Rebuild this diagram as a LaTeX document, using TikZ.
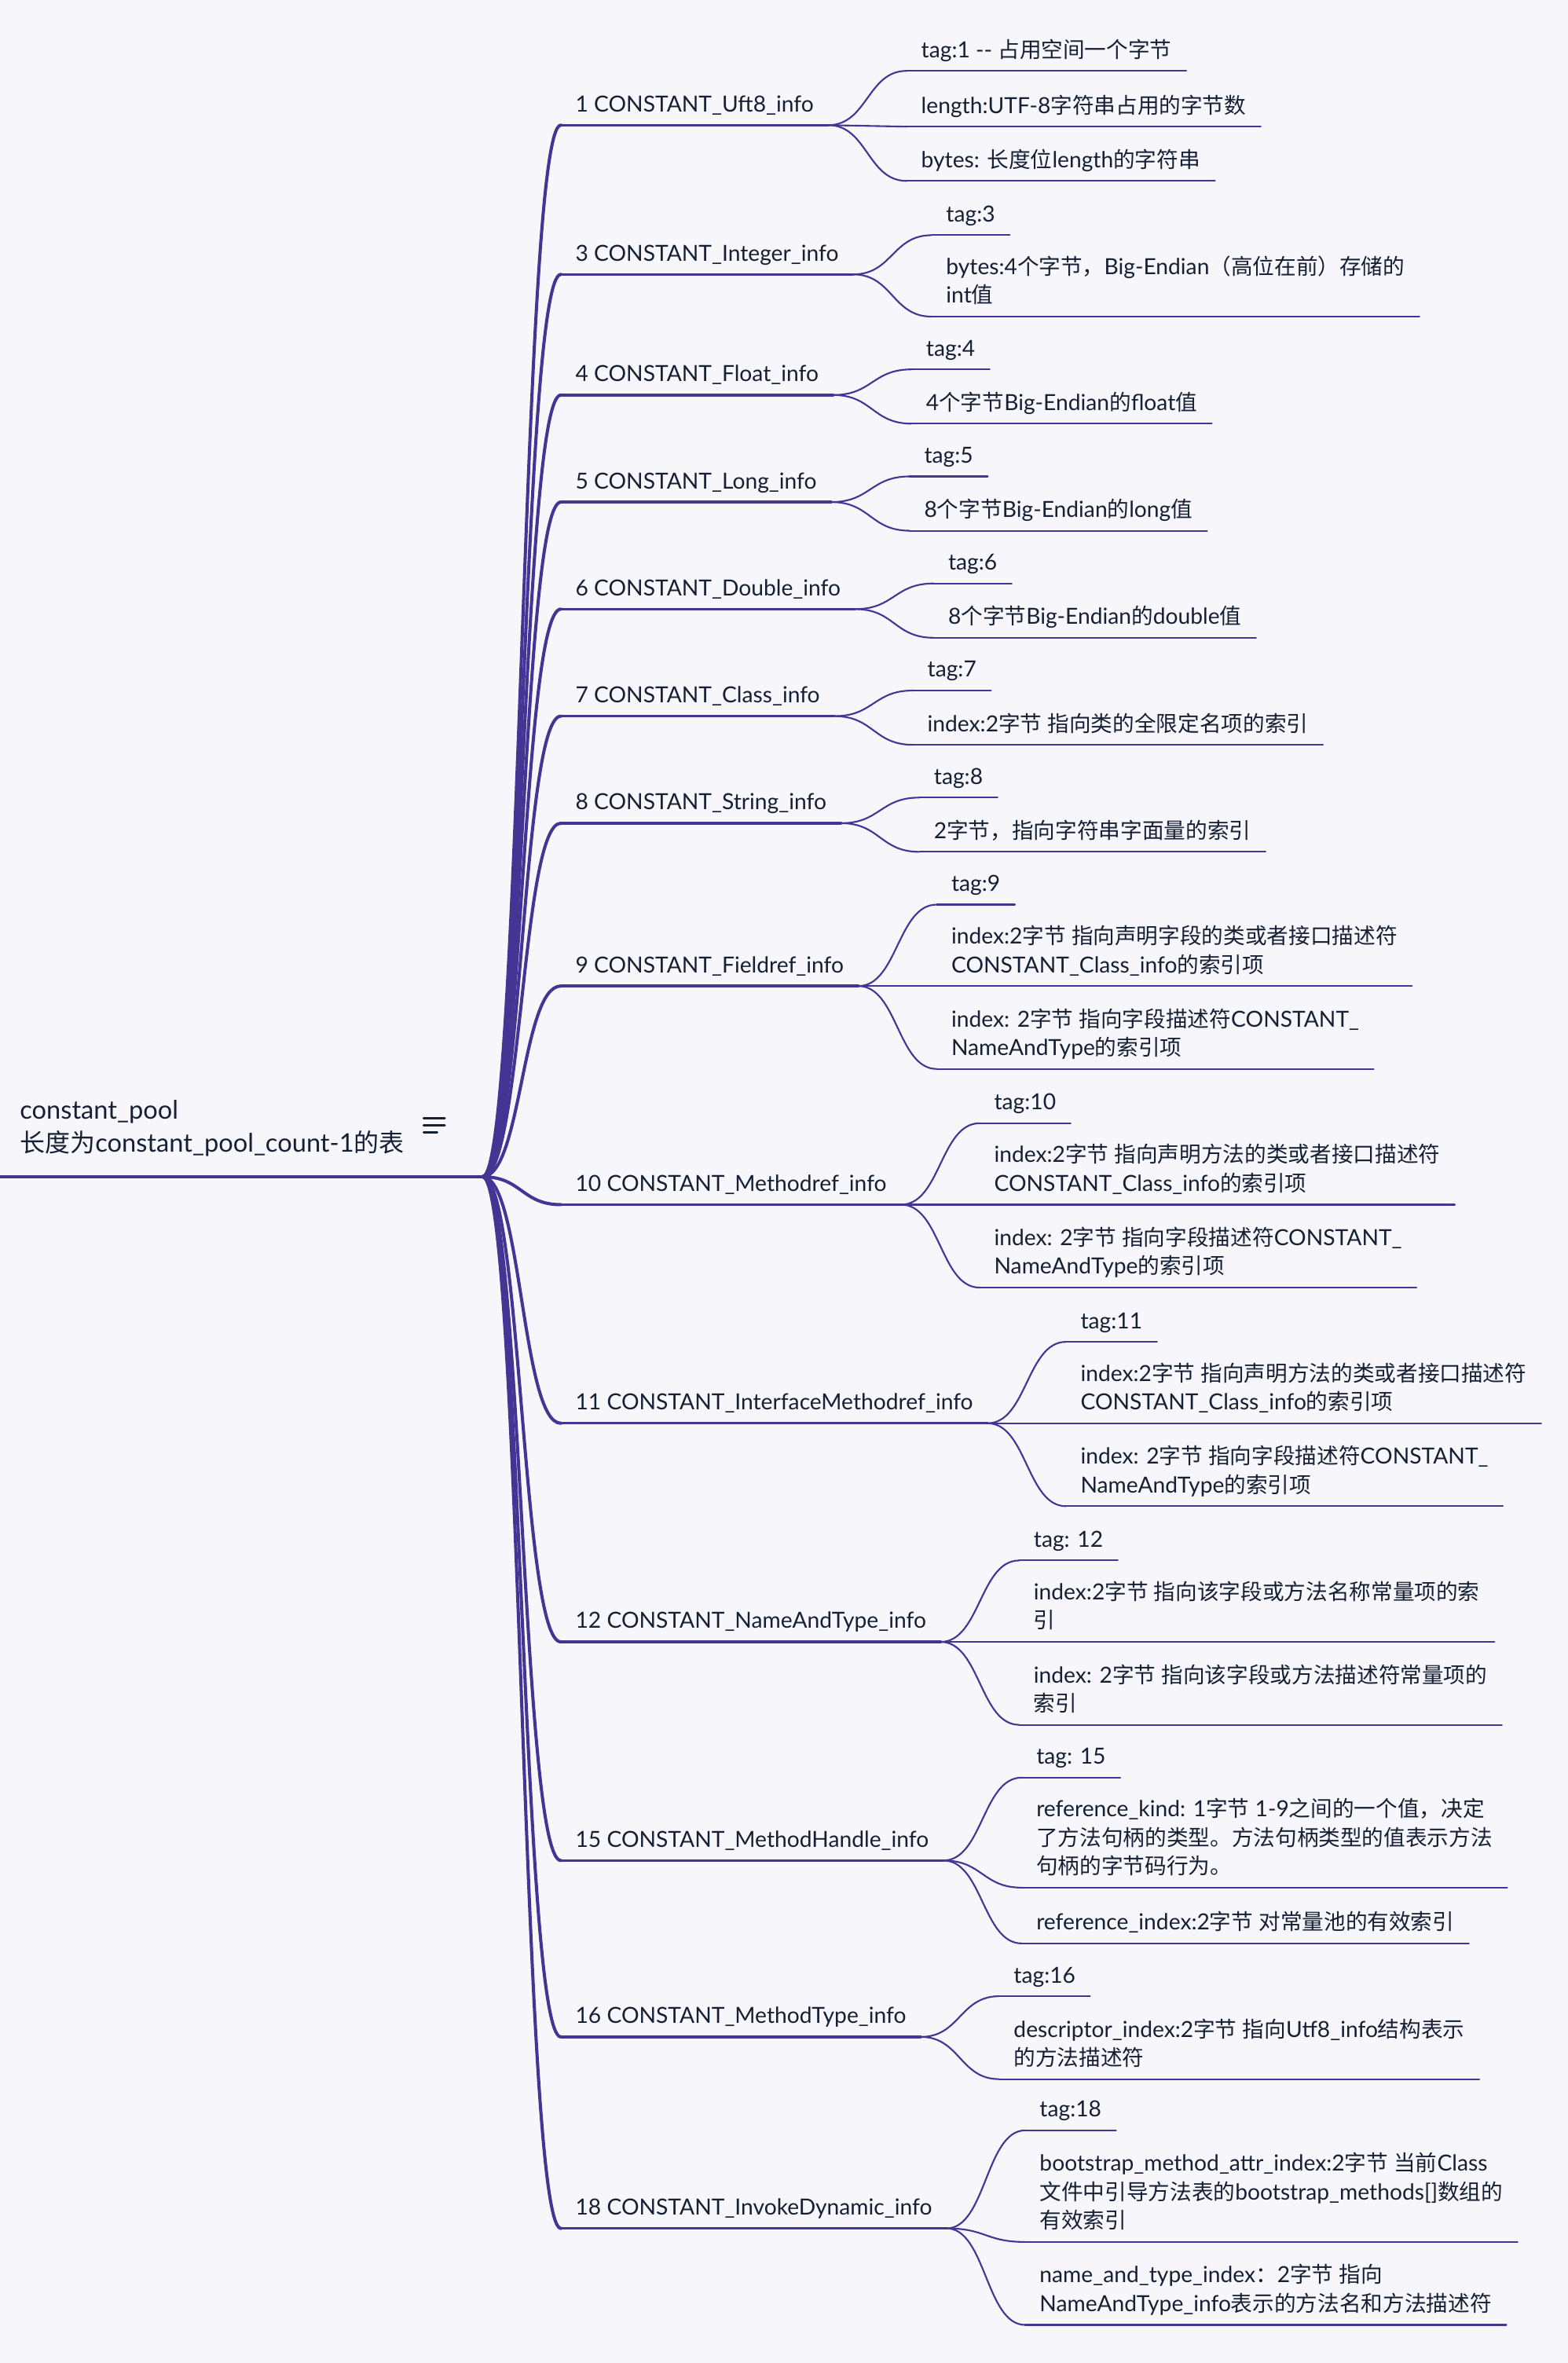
\documentclass[tikz,border=0pt]{standalone}
\usepackage{fontspec}
\setmainfont{Lato}
\newfontfamily\cjkfont[Scale=0.98]{Noto Sans CJK SC}
\usetikzlibrary{calc}
\definecolor{line_purple}{RGB}{68,52,148}
\definecolor{text_navy}{RGB}{22,32,52}
\definecolor{bg_gray}{RGB}{246,246,251}

% chinese characters are set in the cjk font
\XeTeXinterchartokenstate=1
\newXeTeXintercharclass\cjkclass
\newcount\cjkcount
\def\cjkrange#1#2{\cjkcount=#1\relax
  \loop\ifnum\cjkcount<#2\relax\XeTeXcharclass\cjkcount=\cjkclass\advance\cjkcount by 1\repeat}
\cjkrange{"3000}{"3040}
\cjkrange{"4E00}{"A000}
\cjkrange{"FF00}{"FFF0}
\XeTeXinterchartoks 0 \cjkclass={\begingroup\cjkfont}
\XeTeXinterchartoks 4095 \cjkclass={\begingroup\cjkfont}
\XeTeXinterchartoks \cjkclass 0={\endgroup}
\XeTeXinterchartoks \cjkclass 4095={\endgroup}

\begin{document}
\begin{tikzpicture}[x=1pt,y=-1pt,line_purple,line cap=round]
    \tikzstyle{root}=[text=text_navy,font=\fontsize{17}{22}\selectfont,align=left,anchor=south west,inner xsep=13pt,inner ysep=9.4pt,execute at end node=\strut]
    \tikzstyle{topic}=[text=text_navy,font=\fontsize{14.7}{19}\selectfont,align=left,anchor=south west,inner xsep=9.5pt,inner ysep=3pt,execute at end node=\strut]
    \tikzstyle{leaf}=[style=topic,xshift=52pt]
    \tikzstyle{branch}=[to path={.. controls ($(\tikztostart)!0.5!(\tikztotarget |- \tikztostart)$) and ($(\tikztotarget)!0.5!(\tikztostart |- \tikztotarget)$) .. (\tikztotarget)}]
    \tikzstyle{rootedge}=[branch,line width=2.1pt]
    \tikzstyle{leafedge}=[branch,line width=1.1pt]
    \tikzstyle{rootline}=[line width=2.2pt]
    \tikzstyle{topicline}=[line width=1.8pt]
    \tikzstyle{leafline}=[line width=1.1pt]

    \fill[bg_gray] (0,0) rectangle (1040,1567.3);
    \useasboundingbox (0,0) rectangle (1040,1567.3);

    % root
    \node[root] (pool) at (0,780.5) {constant\_pool\\长度为constant\_pool\_count-1的表};
    \coordinate (poolend) at (320,780.5);
    \coordinate (notes) at (281,741.6);
    \draw[rootline] (pool.south west) -- (poolend);
    \draw[text_navy,line width=1.4pt] (notes) -- ++(14,0) (notes) ++(0,4.8) -- ++(14,0) (notes) ++(0,9.5) -- ++(9,0);

    % constant types
    \node[topic] (u8)  at (372,83)   {1 CONSTANT\_Uft8\_info};
    \node[topic] (int) at (372,182)  {3 CONSTANT\_Integer\_info};
    \node[topic] (flt) at (372,262)  {4 CONSTANT\_Float\_info};
    \node[topic] (lng) at (372,333)  {5 CONSTANT\_Long\_info};
    \node[topic] (dbl) at (372,404)  {6 CONSTANT\_Double\_info};
    \node[topic] (cls) at (372,475)  {7 CONSTANT\_Class\_info};
    \node[topic] (str) at (372,546)  {8 CONSTANT\_String\_info};
    \node[topic] (fld) at (372,654)  {9 CONSTANT\_Fieldref\_info};
    \node[topic] (mth) at (372,799)  {10 CONSTANT\_Methodref\_info};
    \node[topic] (imt) at (372,944)  {11 CONSTANT\_InterfaceMethodref\_info};
    \node[topic] (nat) at (372,1089) {12 CONSTANT\_NameAndType\_info};
    \node[topic] (mh)  at (372,1234) {15 CONSTANT\_MethodHandle\_info};
    \node[topic] (mt)  at (372,1351) {16 CONSTANT\_MethodType\_info};
    \node[topic] (ind) at (372,1478) {18 CONSTANT\_InvokeDynamic\_info};

    % fields of each type
    \node[leaf] (u8a) at (u8.south east |- 0,47)  {tag:1 -{}- 占用空间一个字节};
    \node[leaf] (u8b) at (u8.south east |- 0,84)  {length:UTF-8字符串占用的字节数};
    \node[leaf] (u8c) at (u8.south east |- 0,120) {bytes: 长度位length的字符串};

    \node[leaf] (inta) at (int.south east |- 0,156) {tag:3};
    \node[leaf] (intb) at (int.south east |- 0,210) {bytes:4个字节，Big-Endian（高位在前）存储的\\int值};

    \node[leaf] (flta) at (flt.south east |- 0,245) {tag:4};
    \node[leaf] (fltb) at (flt.south east |- 0,281) {4个字节Big-Endian的float值};

    \node[leaf] (lnga) at (lng.south east |- 0,316) {tag:5};
    \node[leaf] (lngb) at (lng.south east |- 0,352) {8个字节Big-Endian的long值};

    \node[leaf] (dbla) at (dbl.south east |- 0,387) {tag:6};
    \node[leaf] (dblb) at (dbl.south east |- 0,423) {8个字节Big-Endian的double值};

    \node[leaf] (clsa) at (cls.south east |- 0,458) {tag:7};
    \node[leaf] (clsb) at (cls.south east |- 0,494) {index:2字节 指向类的全限定名项的索引};

    \node[leaf] (stra) at (str.south east |- 0,529) {tag:8};
    \node[leaf] (strb) at (str.south east |- 0,565) {2字节，指向字符串字面量的索引};

    \node[leaf] (flda) at (fld.south east |- 0,600) {tag:9};
    \node[leaf] (fldb) at (fld.south east |- 0,654) {index:2字节 指向声明字段的类或者接口描述符\\CONSTANT\_Class\_info的索引项};
    \node[leaf] (fldc) at (fld.south east |- 0,709) {index: 2字节 指向字段描述符CONSTANT\_\\NameAndType的索引项};

    \node[leaf] (mtha) at (mth.south east |- 0,745) {tag:10};
    \node[leaf] (mthb) at (mth.south east |- 0,799) {index:2字节 指向声明方法的类或者接口描述符\\CONSTANT\_Class\_info的索引项};
    \node[leaf] (mthc) at (mth.south east |- 0,854) {index: 2字节 指向字段描述符CONSTANT\_\\NameAndType的索引项};

    \node[leaf] (imta) at (imt.south east |- 0,890) {tag:11};
    \node[leaf] (imtb) at (imt.south east |- 0,944) {index:2字节 指向声明方法的类或者接口描述符\\CONSTANT\_Class\_info的索引项};
    \node[leaf] (imtc) at (imt.south east |- 0,999) {index: 2字节 指向字段描述符CONSTANT\_\\NameAndType的索引项};

    \node[leaf] (nata) at (nat.south east |- 0,1035) {tag: 12};
    \node[leaf] (natb) at (nat.south east |- 0,1089) {index:2字节 指向该字段或方法名称常量项的索\\引};
    \node[leaf] (natc) at (nat.south east |- 0,1144) {index: 2字节 指向该字段或方法描述符常量项的\\索引};

    \node[leaf] (mha) at (mh.south east |- 0,1179) {tag: 15};
    \node[leaf] (mhb) at (mh.south east |- 0,1252) {reference\_kind: 1字节 1-9之间的一个值，决定\\了方法句柄的类型。方法句柄类型的值表示方法\\句柄的字节码行为。};
    \node[leaf] (mhc) at (mh.south east |- 0,1289) {reference\_index:2字节 对常量池的有效索引};

    \node[leaf] (mta) at (mt.south east |- 0,1324) {tag:16};
    \node[leaf] (mtb) at (mt.south east |- 0,1379) {descriptor\_index:2字节 指向Utf8\_info结构表示\\的方法描述符};

    \node[leaf] (inda) at (ind.south east |- 0,1413) {tag:18};
    \node[leaf] (indb) at (ind.south east |- 0,1487) {bootstrap\_method\_attr\_index:2字节 当前Class\\文件中引导方法表的bootstrap\_methods[]数组的\\有效索引};
    \node[leaf] (indc) at (ind.south east |- 0,1542) {name\_and\_type\_index：2字节 指向\\NameAndType\_info表示的方法名和方法描述符};

    % connectors
    \foreach \t in {u8,int,flt,lng,dbl,cls,str,fld,mth,imt,nat,mh,mt,ind} {
      \draw[rootedge] (poolend) to (\t.south west);
      \draw[topicline] (\t.south west) -- (\t.south east);
    }
    \foreach \p/\c in {u8/u8a,u8/u8b,u8/u8c,int/inta,int/intb,flt/flta,flt/fltb,lng/lnga,lng/lngb,
        dbl/dbla,dbl/dblb,cls/clsa,cls/clsb,str/stra,str/strb,fld/flda,fld/fldb,fld/fldc,
        mth/mtha,mth/mthb,mth/mthc,imt/imta,imt/imtb,imt/imtc,nat/nata,nat/natb,nat/natc,
        mh/mha,mh/mhb,mh/mhc,mt/mta,mt/mtb,ind/inda,ind/indb,ind/indc} {
      \draw[leafedge] (\p.south east) to (\c.south west);
      \draw[leafline] (\c.south west) -- (\c.south east);
    }
\end{tikzpicture}
\end{document}
